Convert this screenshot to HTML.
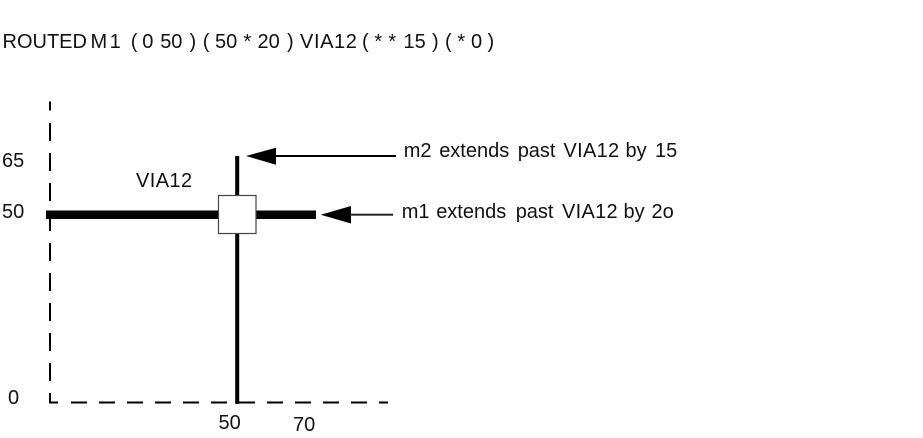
<!DOCTYPE html>
<html><head><meta charset="utf-8"><style>
html,body{margin:0;padding:0;background:#fff;width:923px;height:438px;overflow:hidden}
svg{display:block}
text{font-family:"Liberation Sans",sans-serif;font-size:20px;fill:#111}
</style></head><body>
<svg width="923" height="438" viewBox="0 0 923 438">
<path d="M50 101.5V110.5M50 123V141M50 153V171M50 183V201M50 213V231M50 243V261M50 273V291M50 303V321M50 333V351M50 363V381M50 393V402.5H58M71 402.5H87M99 402.5H115M127 402.5H143M155 402.5H171M183 402.5H199M211 402.5H227M239 402.5H255M267 402.5H283M295 402.5H311M323 402.5H339M351 402.5H367M379 402.5H388" fill="none" stroke="#000" stroke-width="2"/>
<rect x="46" y="210.5" width="270" height="8.5" fill="#000"/>
<rect x="235.2" y="156" width="4" height="248" fill="#000"/>
<rect x="218.5" y="195.5" width="37.5" height="38" fill="#fff" stroke="#444" stroke-width="1.2"/>
<path d="M246 156L276 147.7V164.7Z" fill="#000"/>
<rect x="275" y="155" width="121" height="2" fill="#000"/>
<path d="M320.7 214.7L351 206V223.5Z" fill="#000"/>
<rect x="350" y="213.7" width="43" height="2" fill="#222"/>
<text y="48"><tspan x="2.5">ROUTED</tspan><tspan x="90.5" letter-spacing="2.5">M1</tspan><tspan x="130.8">(</tspan><tspan x="142.2">0</tspan><tspan x="160.2">50</tspan><tspan x="189.5">)</tspan><tspan x="202.8">(</tspan><tspan x="215">50</tspan><tspan x="243.5">*</tspan><tspan x="257.5">20</tspan><tspan x="287">)</tspan><tspan x="300" letter-spacing="0.6">VIA12</tspan><tspan x="362">(</tspan><tspan x="374.4">*</tspan><tspan x="388.4">*</tspan><tspan x="403.5">15</tspan><tspan x="432">)</tspan><tspan x="445">(</tspan><tspan x="457.4">*</tspan><tspan x="471">0</tspan><tspan x="487.5">)</tspan></text>
<text x="2" y="167">65</text>
<text x="2" y="218">50</text>
<text x="8" y="404">0</text>
<text x="136" y="187" letter-spacing="0.4">VIA12</text>
<text x="218.5" y="429">50</text>
<text x="293" y="431">70</text>
<text y="157"><tspan x="403.7">m2</tspan><tspan x="439.2">extends</tspan><tspan x="517.7">past</tspan><tspan x="563.5" letter-spacing="0.3">VIA12</tspan><tspan x="625.5">by</tspan><tspan x="655">15</tspan></text>
<text y="218"><tspan x="401.7">m1</tspan><tspan x="436.2">extends</tspan><tspan x="515.7">past</tspan><tspan x="562" letter-spacing="0.3">VIA12</tspan><tspan x="623.5">by</tspan><tspan x="651.5">2o</tspan></text>
</svg>
</body></html>
